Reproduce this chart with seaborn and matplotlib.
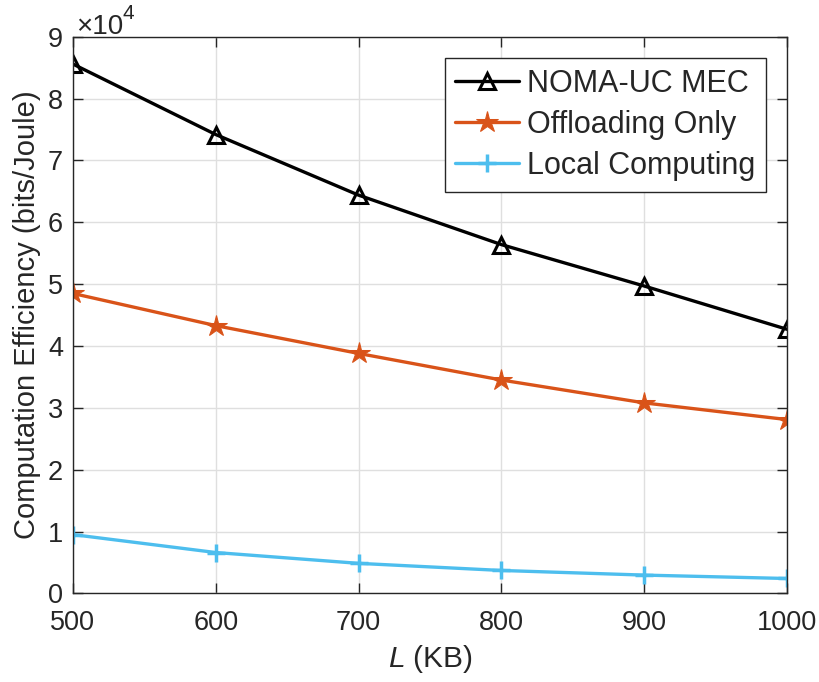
import matplotlib
matplotlib.use("Agg")
import matplotlib.pyplot as plt
import matplotlib.ticker as mticker
import seaborn as sns
import pandas as pd

# Task size L (KB)
task_size_kb = [500, 600, 700, 800, 900, 1000]

# Computation efficiency (bits/Joule)
noma_uc_mec = [85600, 74200, 64400, 56400, 49700, 42700]
offloading_only = [48500, 43300, 38800, 34500, 30800, 28100]
local_computing = [9500, 6600, 4850, 3700, 2950, 2400]

series_names = ["NOMA-UC MEC", "Offloading Only", "Local Computing"]

sns.set_theme(style="whitegrid")
plt.rcParams["font.family"] = ["Liberation Sans", "DejaVu Sans"]
plt.rcParams["mathtext.fontset"] = "custom"
plt.rcParams["mathtext.rm"] = "Liberation Sans"
plt.rcParams["mathtext.it"] = "Liberation Sans:italic"

df = pd.DataFrame({
    "L": task_size_kb * 3,
    "eff": noma_uc_mec + offloading_only + local_computing,
    "scheme": [series_names[0]] * 6 + [series_names[1]] * 6 + [series_names[2]] * 6,
})

fig = plt.figure(figsize=(8.19, 6.82), dpi=100)
ax = fig.add_axes([0.089, 0.130, 0.872, 0.816])

styles = {
    "NOMA-UC MEC": dict(color="black", marker="^", markerfacecolor="none",
                        markeredgecolor="black", markeredgewidth=2.2, markersize=12),
    "Offloading Only": dict(color="#D95319", marker="*", markerfacecolor="#D95319",
                            markeredgecolor="#D95319", markersize=16),
    "Local Computing": dict(color="#4DBEEE", marker="+", markeredgewidth=2.5,
                            markeredgecolor="#4DBEEE", markersize=13),
}

for name in series_names:
    sub = df[df["scheme"] == name]
    sns.lineplot(data=sub, x="L", y="eff", ax=ax, label=name, linewidth=2.4,
                 **styles[name])

ax.set_xlim(500, 1000)
ax.set_ylim(0, 90000)
ax.set_xticks(task_size_kb)
ax.set_yticks(range(0, 90001, 10000))

# y tick labels in units of 10^4, with the exponent shown above the axis
ax.yaxis.set_major_formatter(mticker.FuncFormatter(lambda v, _: f"{v / 1e4:g}"))
ax.annotate("\u00d710", xy=(0, 1), xycoords="axes fraction",
            xytext=(2, 2), textcoords="offset points", ha="left", va="baseline",
            fontsize=20, color="#262626")
ax.annotate("4", xy=(0, 1), xycoords="axes fraction",
            xytext=(36, 13), textcoords="offset points", ha="left", va="baseline",
            fontsize=15, color="#262626")

ax.grid(True, color="#DFDFDF", linewidth=1.0)
ax.set_facecolor("white")
for sp in ax.spines.values():
    sp.set_color("#262626")
    sp.set_linewidth(1.0)
    sp.set_visible(True)

ax.tick_params(axis="both", which="major", direction="in", length=7, width=1.0,
               labelsize=19.5, colors="#262626", top=True, right=True,
               bottom=True, left=True)
ax.tick_params(axis="x", pad=12)
ax.tick_params(axis="y", pad=7)

ax.set_xlabel(r"$\mathit{L}$ (KB)", fontsize=21.5, color="#262626", labelpad=5)
ax.set_ylabel("Computation Efficiency (bits/Joule)", fontsize=21,
              color="#262626", labelpad=5)

leg = ax.legend(loc="upper right", bbox_to_anchor=(0.9706, 0.9617), fontsize=22,
                frameon=True, fancybox=False, framealpha=1, edgecolor="#262626",
                handlelength=2.1, handletextpad=0.25, borderpad=0.35,
                labelspacing=0.36, borderaxespad=0.0)
leg.get_frame().set_linewidth(1.0)

fig.savefig("out.png", dpi=100, facecolor="white")
